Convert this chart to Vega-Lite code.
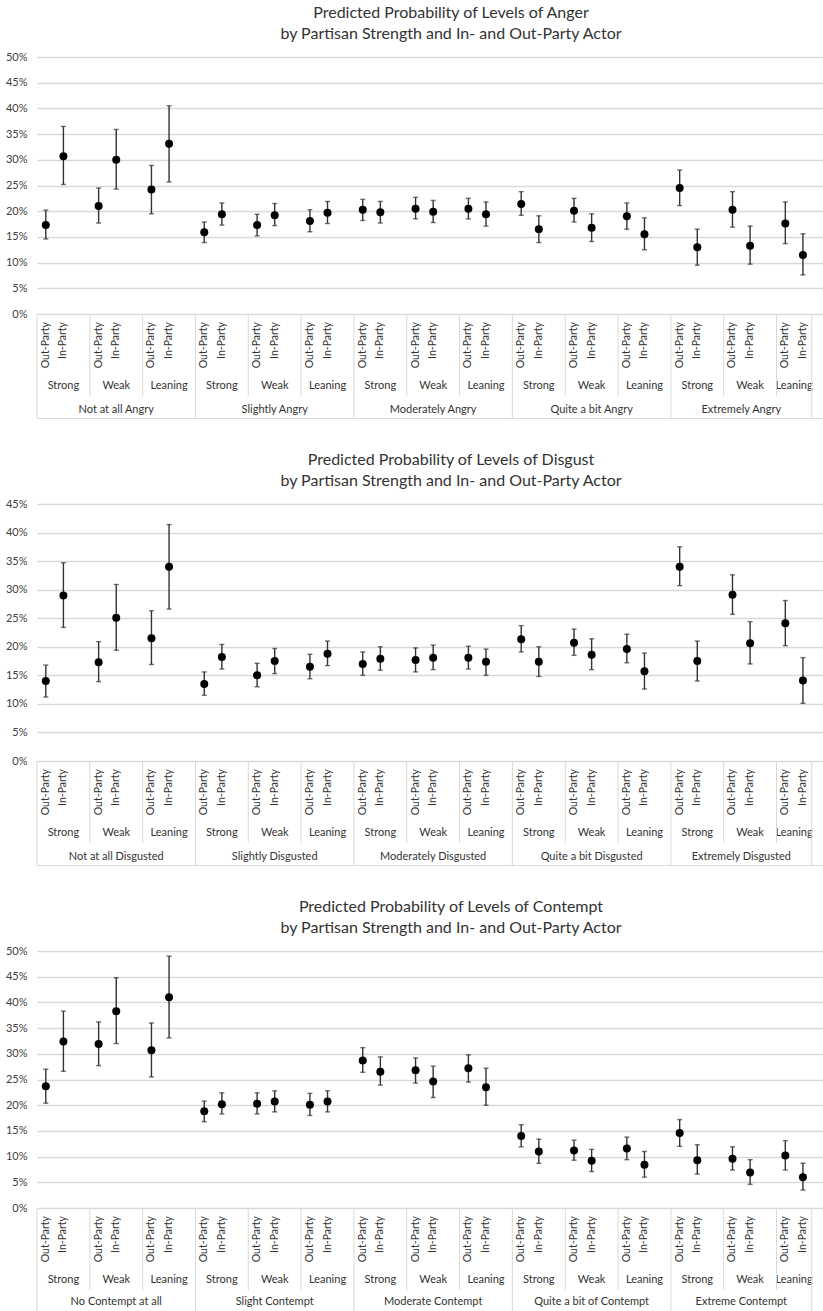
{
  "$schema": "https://vega.github.io/schema/vega-lite/v6.json",
  "background": "white",
  "padding": {"top": 4, "left": 0, "right": 0, "bottom": 0},
  "autosize": {"type": "pad"},
  "datasets": {
    "anger": [
      {"k": "1SO", "emotion": "Not at all Angry", "strength": "Strong", "party": "Out-Party", "p": 0.173, "lo": 0.146, "hi": 0.202},
      {"k": "1SI", "emotion": "Not at all Angry", "strength": "Strong", "party": "In-Party", "p": 0.307, "lo": 0.252, "hi": 0.365},
      {"k": "1WO", "emotion": "Not at all Angry", "strength": "Weak", "party": "Out-Party", "p": 0.210, "lo": 0.177, "hi": 0.245},
      {"k": "1WI", "emotion": "Not at all Angry", "strength": "Weak", "party": "In-Party", "p": 0.300, "lo": 0.243, "hi": 0.359},
      {"k": "1LO", "emotion": "Not at all Angry", "strength": "Leaning", "party": "Out-Party", "p": 0.242, "lo": 0.195, "hi": 0.289},
      {"k": "1LI", "emotion": "Not at all Angry", "strength": "Leaning", "party": "In-Party", "p": 0.331, "lo": 0.257, "hi": 0.405},
      {"k": "2SO", "emotion": "Slightly Angry", "strength": "Strong", "party": "Out-Party", "p": 0.159, "lo": 0.139, "hi": 0.179},
      {"k": "2SI", "emotion": "Slightly Angry", "strength": "Strong", "party": "In-Party", "p": 0.194, "lo": 0.173, "hi": 0.216},
      {"k": "2WO", "emotion": "Slightly Angry", "strength": "Weak", "party": "Out-Party", "p": 0.173, "lo": 0.152, "hi": 0.194},
      {"k": "2WI", "emotion": "Slightly Angry", "strength": "Weak", "party": "In-Party", "p": 0.192, "lo": 0.172, "hi": 0.215},
      {"k": "2LO", "emotion": "Slightly Angry", "strength": "Leaning", "party": "Out-Party", "p": 0.181, "lo": 0.160, "hi": 0.203},
      {"k": "2LI", "emotion": "Slightly Angry", "strength": "Leaning", "party": "In-Party", "p": 0.197, "lo": 0.176, "hi": 0.219},
      {"k": "3SO", "emotion": "Moderately Angry", "strength": "Strong", "party": "Out-Party", "p": 0.203, "lo": 0.182, "hi": 0.223},
      {"k": "3SI", "emotion": "Moderately Angry", "strength": "Strong", "party": "In-Party", "p": 0.198, "lo": 0.177, "hi": 0.219},
      {"k": "3WO", "emotion": "Moderately Angry", "strength": "Weak", "party": "Out-Party", "p": 0.205, "lo": 0.185, "hi": 0.227},
      {"k": "3WI", "emotion": "Moderately Angry", "strength": "Weak", "party": "In-Party", "p": 0.199, "lo": 0.178, "hi": 0.221},
      {"k": "3LO", "emotion": "Moderately Angry", "strength": "Leaning", "party": "Out-Party", "p": 0.205, "lo": 0.185, "hi": 0.225},
      {"k": "3LI", "emotion": "Moderately Angry", "strength": "Leaning", "party": "In-Party", "p": 0.194, "lo": 0.171, "hi": 0.218},
      {"k": "4SO", "emotion": "Quite a bit Angry", "strength": "Strong", "party": "Out-Party", "p": 0.214, "lo": 0.192, "hi": 0.238},
      {"k": "4SI", "emotion": "Quite a bit Angry", "strength": "Strong", "party": "In-Party", "p": 0.165, "lo": 0.139, "hi": 0.191},
      {"k": "4WO", "emotion": "Quite a bit Angry", "strength": "Weak", "party": "Out-Party", "p": 0.201, "lo": 0.179, "hi": 0.225},
      {"k": "4WI", "emotion": "Quite a bit Angry", "strength": "Weak", "party": "In-Party", "p": 0.168, "lo": 0.141, "hi": 0.195},
      {"k": "4LO", "emotion": "Quite a bit Angry", "strength": "Leaning", "party": "Out-Party", "p": 0.190, "lo": 0.165, "hi": 0.216},
      {"k": "4LI", "emotion": "Quite a bit Angry", "strength": "Leaning", "party": "In-Party", "p": 0.155, "lo": 0.125, "hi": 0.187},
      {"k": "5SO", "emotion": "Extremely Angry", "strength": "Strong", "party": "Out-Party", "p": 0.245, "lo": 0.211, "hi": 0.280},
      {"k": "5SI", "emotion": "Extremely Angry", "strength": "Strong", "party": "In-Party", "p": 0.130, "lo": 0.095, "hi": 0.165},
      {"k": "5WO", "emotion": "Extremely Angry", "strength": "Weak", "party": "Out-Party", "p": 0.203, "lo": 0.169, "hi": 0.238},
      {"k": "5WI", "emotion": "Extremely Angry", "strength": "Weak", "party": "In-Party", "p": 0.133, "lo": 0.097, "hi": 0.171},
      {"k": "5LO", "emotion": "Extremely Angry", "strength": "Leaning", "party": "Out-Party", "p": 0.176, "lo": 0.137, "hi": 0.218},
      {"k": "5LI", "emotion": "Extremely Angry", "strength": "Leaning", "party": "In-Party", "p": 0.115, "lo": 0.076, "hi": 0.156}
    ],
    "disgust": [
      {"k": "1SO", "emotion": "Not at all Disgusted", "strength": "Strong", "party": "Out-Party", "p": 0.140, "lo": 0.112, "hi": 0.168},
      {"k": "1SI", "emotion": "Not at all Disgusted", "strength": "Strong", "party": "In-Party", "p": 0.290, "lo": 0.234, "hi": 0.347},
      {"k": "1WO", "emotion": "Not at all Disgusted", "strength": "Weak", "party": "Out-Party", "p": 0.173, "lo": 0.139, "hi": 0.209},
      {"k": "1WI", "emotion": "Not at all Disgusted", "strength": "Weak", "party": "In-Party", "p": 0.251, "lo": 0.194, "hi": 0.309},
      {"k": "1LO", "emotion": "Not at all Disgusted", "strength": "Leaning", "party": "Out-Party", "p": 0.215, "lo": 0.169, "hi": 0.263},
      {"k": "1LI", "emotion": "Not at all Disgusted", "strength": "Leaning", "party": "In-Party", "p": 0.340, "lo": 0.266, "hi": 0.414},
      {"k": "2SO", "emotion": "Slightly Disgusted", "strength": "Strong", "party": "Out-Party", "p": 0.135, "lo": 0.115, "hi": 0.156},
      {"k": "2SI", "emotion": "Slightly Disgusted", "strength": "Strong", "party": "In-Party", "p": 0.182, "lo": 0.161, "hi": 0.204},
      {"k": "2WO", "emotion": "Slightly Disgusted", "strength": "Weak", "party": "Out-Party", "p": 0.150, "lo": 0.130, "hi": 0.171},
      {"k": "2WI", "emotion": "Slightly Disgusted", "strength": "Weak", "party": "In-Party", "p": 0.175, "lo": 0.153, "hi": 0.197},
      {"k": "2LO", "emotion": "Slightly Disgusted", "strength": "Leaning", "party": "Out-Party", "p": 0.165, "lo": 0.144, "hi": 0.187},
      {"k": "2LI", "emotion": "Slightly Disgusted", "strength": "Leaning", "party": "In-Party", "p": 0.188, "lo": 0.167, "hi": 0.210},
      {"k": "3SO", "emotion": "Moderately Disgusted", "strength": "Strong", "party": "Out-Party", "p": 0.170, "lo": 0.150, "hi": 0.191},
      {"k": "3SI", "emotion": "Moderately Disgusted", "strength": "Strong", "party": "In-Party", "p": 0.179, "lo": 0.159, "hi": 0.200},
      {"k": "3WO", "emotion": "Moderately Disgusted", "strength": "Weak", "party": "Out-Party", "p": 0.177, "lo": 0.156, "hi": 0.198},
      {"k": "3WI", "emotion": "Moderately Disgusted", "strength": "Weak", "party": "In-Party", "p": 0.181, "lo": 0.160, "hi": 0.203},
      {"k": "3LO", "emotion": "Moderately Disgusted", "strength": "Leaning", "party": "Out-Party", "p": 0.181, "lo": 0.161, "hi": 0.201},
      {"k": "3LI", "emotion": "Moderately Disgusted", "strength": "Leaning", "party": "In-Party", "p": 0.174, "lo": 0.150, "hi": 0.196},
      {"k": "4SO", "emotion": "Quite a bit Disgusted", "strength": "Strong", "party": "Out-Party", "p": 0.213, "lo": 0.191, "hi": 0.237},
      {"k": "4SI", "emotion": "Quite a bit Disgusted", "strength": "Strong", "party": "In-Party", "p": 0.174, "lo": 0.148, "hi": 0.200},
      {"k": "4WO", "emotion": "Quite a bit Disgusted", "strength": "Weak", "party": "Out-Party", "p": 0.207, "lo": 0.185, "hi": 0.231},
      {"k": "4WI", "emotion": "Quite a bit Disgusted", "strength": "Weak", "party": "In-Party", "p": 0.186, "lo": 0.160, "hi": 0.214},
      {"k": "4LO", "emotion": "Quite a bit Disgusted", "strength": "Leaning", "party": "Out-Party", "p": 0.196, "lo": 0.172, "hi": 0.222},
      {"k": "4LI", "emotion": "Quite a bit Disgusted", "strength": "Leaning", "party": "In-Party", "p": 0.157, "lo": 0.126, "hi": 0.189},
      {"k": "5SO", "emotion": "Extremely Disgusted", "strength": "Strong", "party": "Out-Party", "p": 0.340, "lo": 0.307, "hi": 0.375},
      {"k": "5SI", "emotion": "Extremely Disgusted", "strength": "Strong", "party": "In-Party", "p": 0.175, "lo": 0.140, "hi": 0.210},
      {"k": "5WO", "emotion": "Extremely Disgusted", "strength": "Weak", "party": "Out-Party", "p": 0.291, "lo": 0.257, "hi": 0.326},
      {"k": "5WI", "emotion": "Extremely Disgusted", "strength": "Weak", "party": "In-Party", "p": 0.206, "lo": 0.170, "hi": 0.244},
      {"k": "5LO", "emotion": "Extremely Disgusted", "strength": "Leaning", "party": "Out-Party", "p": 0.241, "lo": 0.202, "hi": 0.281},
      {"k": "5LI", "emotion": "Extremely Disgusted", "strength": "Leaning", "party": "In-Party", "p": 0.141, "lo": 0.101, "hi": 0.181}
    ],
    "contempt": [
      {"k": "1SO", "emotion": "No Contempt at all", "strength": "Strong", "party": "Out-Party", "p": 0.237, "lo": 0.204, "hi": 0.270},
      {"k": "1SI", "emotion": "No Contempt at all", "strength": "Strong", "party": "In-Party", "p": 0.324, "lo": 0.266, "hi": 0.383},
      {"k": "1WO", "emotion": "No Contempt at all", "strength": "Weak", "party": "Out-Party", "p": 0.319, "lo": 0.277, "hi": 0.362},
      {"k": "1WI", "emotion": "No Contempt at all", "strength": "Weak", "party": "In-Party", "p": 0.383, "lo": 0.320, "hi": 0.448},
      {"k": "1LO", "emotion": "No Contempt at all", "strength": "Leaning", "party": "Out-Party", "p": 0.307, "lo": 0.255, "hi": 0.360},
      {"k": "1LI", "emotion": "No Contempt at all", "strength": "Leaning", "party": "In-Party", "p": 0.410, "lo": 0.331, "hi": 0.490},
      {"k": "2SO", "emotion": "Slight Contempt", "strength": "Strong", "party": "Out-Party", "p": 0.188, "lo": 0.168, "hi": 0.208},
      {"k": "2SI", "emotion": "Slight Contempt", "strength": "Strong", "party": "In-Party", "p": 0.202, "lo": 0.183, "hi": 0.224},
      {"k": "2WO", "emotion": "Slight Contempt", "strength": "Weak", "party": "Out-Party", "p": 0.203, "lo": 0.183, "hi": 0.224},
      {"k": "2WI", "emotion": "Slight Contempt", "strength": "Weak", "party": "In-Party", "p": 0.207, "lo": 0.187, "hi": 0.228},
      {"k": "2LO", "emotion": "Slight Contempt", "strength": "Leaning", "party": "Out-Party", "p": 0.201, "lo": 0.180, "hi": 0.223},
      {"k": "2LI", "emotion": "Slight Contempt", "strength": "Leaning", "party": "In-Party", "p": 0.207, "lo": 0.187, "hi": 0.228},
      {"k": "3SO", "emotion": "Moderate Contempt", "strength": "Strong", "party": "Out-Party", "p": 0.287, "lo": 0.264, "hi": 0.312},
      {"k": "3SI", "emotion": "Moderate Contempt", "strength": "Strong", "party": "In-Party", "p": 0.265, "lo": 0.239, "hi": 0.294},
      {"k": "3WO", "emotion": "Moderate Contempt", "strength": "Weak", "party": "Out-Party", "p": 0.268, "lo": 0.243, "hi": 0.292},
      {"k": "3WI", "emotion": "Moderate Contempt", "strength": "Weak", "party": "In-Party", "p": 0.246, "lo": 0.215, "hi": 0.276},
      {"k": "3LO", "emotion": "Moderate Contempt", "strength": "Leaning", "party": "Out-Party", "p": 0.272, "lo": 0.245, "hi": 0.298},
      {"k": "3LI", "emotion": "Moderate Contempt", "strength": "Leaning", "party": "In-Party", "p": 0.235, "lo": 0.200, "hi": 0.272},
      {"k": "4SO", "emotion": "Quite a bit of Contempt", "strength": "Strong", "party": "Out-Party", "p": 0.140, "lo": 0.119, "hi": 0.162},
      {"k": "4SI", "emotion": "Quite a bit of Contempt", "strength": "Strong", "party": "In-Party", "p": 0.110, "lo": 0.087, "hi": 0.134},
      {"k": "4WO", "emotion": "Quite a bit of Contempt", "strength": "Weak", "party": "Out-Party", "p": 0.112, "lo": 0.093, "hi": 0.132},
      {"k": "4WI", "emotion": "Quite a bit of Contempt", "strength": "Weak", "party": "In-Party", "p": 0.092, "lo": 0.071, "hi": 0.114},
      {"k": "4LO", "emotion": "Quite a bit of Contempt", "strength": "Leaning", "party": "Out-Party", "p": 0.116, "lo": 0.094, "hi": 0.138},
      {"k": "4LI", "emotion": "Quite a bit of Contempt", "strength": "Leaning", "party": "In-Party", "p": 0.084, "lo": 0.060, "hi": 0.110},
      {"k": "5SO", "emotion": "Extreme Contempt", "strength": "Strong", "party": "Out-Party", "p": 0.146, "lo": 0.120, "hi": 0.172},
      {"k": "5SI", "emotion": "Extreme Contempt", "strength": "Strong", "party": "In-Party", "p": 0.093, "lo": 0.066, "hi": 0.123},
      {"k": "5WO", "emotion": "Extreme Contempt", "strength": "Weak", "party": "Out-Party", "p": 0.096, "lo": 0.074, "hi": 0.119},
      {"k": "5WI", "emotion": "Extreme Contempt", "strength": "Weak", "party": "In-Party", "p": 0.069, "lo": 0.046, "hi": 0.094},
      {"k": "5LO", "emotion": "Extreme Contempt", "strength": "Leaning", "party": "Out-Party", "p": 0.102, "lo": 0.074, "hi": 0.131},
      {"k": "5LI", "emotion": "Extreme Contempt", "strength": "Leaning", "party": "In-Party", "p": 0.060, "lo": 0.035, "hi": 0.087}
    ]
  },
  "spacing": 32,
  "vconcat": [
    {
      "spacing": 0,
      "bounds": "flush",
      "vconcat": [
        {
          "width": 786, "height": 257,
          "title": {"text": ["Predicted Probability of Levels of Anger", "by Partisan Strength and In- and Out-Party Actor"]},
          "data": {"name": "anger"},
          "encoding": {"x": {"field": "k", "type": "nominal", "axis": null, "scale": {"type": "band", "paddingInner": 0, "paddingOuter": 0.32, "align": 0, "domain": ["1SO","1SI","1Sg","1WO","1WI","1Wg","1LO","1LI","1Lg","2SO","2SI","2Sg","2WO","2WI","2Wg","2LO","2LI","2Lg","3SO","3SI","3Sg","3WO","3WI","3Wg","3LO","3LI","3Lg","4SO","4SI","4Sg","4WO","4WI","4Wg","4LO","4LI","4Lg","5SO","5SI","5Sg","5WO","5WI","5Wg","5LO","5LI"]}}},
          "layer": [
            {"mark": {"type": "rule", "color": "#333333", "strokeWidth": 1.4}, "encoding": {"y": {"field": "lo", "type": "quantitative", "scale": {"domain": [0, 0.5], "nice": false}, "axis": {"values": [0, 0.05, 0.1, 0.15, 0.2, 0.25, 0.3, 0.35, 0.4, 0.45, 0.5]}}, "y2": {"field": "hi"}}},
            {"mark": {"type": "tick", "color": "#333333", "thickness": 1.4, "size": 5}, "encoding": {"y": {"field": "lo", "type": "quantitative", "axis": {"values": [0, 0.05, 0.1, 0.15, 0.2, 0.25, 0.3, 0.35, 0.4, 0.45, 0.5]}}}},
            {"mark": {"type": "tick", "color": "#333333", "thickness": 1.4, "size": 5}, "encoding": {"y": {"field": "hi", "type": "quantitative", "axis": {"values": [0, 0.05, 0.1, 0.15, 0.2, 0.25, 0.3, 0.35, 0.4, 0.45, 0.5]}}}},
            {"mark": {"type": "circle", "size": 64, "color": "#000000", "opacity": 1}, "encoding": {"y": {"field": "p", "type": "quantitative", "axis": {"values": [0, 0.05, 0.1, 0.15, 0.2, 0.25, 0.3, 0.35, 0.4, 0.45, 0.5]}}}}
          ]
        },
        {
          "width": 786, "height": 62,
          "data": {"name": "anger"},
          "encoding": {"x": {"field": "k", "type": "nominal", "axis": null, "scale": {"type": "band", "paddingInner": 0, "paddingOuter": 0.32, "align": 0, "domain": ["1SO","1SI","1Sg","1WO","1WI","1Wg","1LO","1LI","1Lg","2SO","2SI","2Sg","2WO","2WI","2Wg","2LO","2LI","2Lg","3SO","3SI","3Sg","3WO","3WI","3Wg","3LO","3LI","3Lg","4SO","4SI","4Sg","4WO","4WI","4Wg","4LO","4LI","4Lg","5SO","5SI","5Sg","5WO","5WI","5Wg","5LO","5LI"]}}},
          "layer": [
            {"mark": {"type": "text", "angle": 270, "align": "right", "baseline": "middle", "dx": 23, "fontSize": 10.5, "color": "#333333"}, "encoding": {"text": {"field": "party"}}},
            {"transform": [{"filter": "datum.party == 'Out-Party'"}], "mark": {"type": "rule", "color": "#d9d9d9", "strokeWidth": 1}, "encoding": {"x": {"field": "k", "type": "nominal", "bandPosition": 0}}},
            {"transform": [{"filter": "datum.k == '5LI'"}], "mark": {"type": "rule", "color": "#d9d9d9", "strokeWidth": 1}, "encoding": {"x": {"field": "k", "type": "nominal", "bandPosition": 1}}}
          ]
        },
        {
          "width": 786, "height": 20,
          "data": {"name": "anger"},
          "encoding": {"x": {"field": "k", "type": "nominal", "axis": null, "scale": {"type": "band", "paddingInner": 0, "paddingOuter": 0.32, "align": 0, "domain": ["1SO","1SI","1Sg","1WO","1WI","1Wg","1LO","1LI","1Lg","2SO","2SI","2Sg","2WO","2WI","2Wg","2LO","2LI","2Lg","3SO","3SI","3Sg","3WO","3WI","3Wg","3LO","3LI","3Lg","4SO","4SI","4Sg","4WO","4WI","4Wg","4LO","4LI","4Lg","5SO","5SI","5Sg","5WO","5WI","5Wg","5LO","5LI"]}}},
          "layer": [
            {"transform": [{"filter": "datum.party == 'In-Party' && datum.k != '5LI'"}], "mark": {"type": "text", "baseline": "middle", "fontSize": 11, "color": "#333333"}, "encoding": {"text": {"field": "strength"}}},
            {"transform": [{"filter": "datum.k == '5LI'"}], "mark": {"type": "text", "baseline": "middle", "fontSize": 11, "color": "#333333"}, "encoding": {"x": {"field": "k", "type": "nominal", "bandPosition": 0}, "text": {"field": "strength"}}},
            {"transform": [{"filter": "datum.party == 'Out-Party'"}], "mark": {"type": "rule", "color": "#d9d9d9", "strokeWidth": 1}, "encoding": {"x": {"field": "k", "type": "nominal", "bandPosition": 0}}},
            {"transform": [{"filter": "datum.k == '5LI'"}], "mark": {"type": "rule", "color": "#d9d9d9", "strokeWidth": 1}, "encoding": {"x": {"field": "k", "type": "nominal", "bandPosition": 1}}}
          ]
        },
        {
          "width": 786, "height": 22,
          "data": {"name": "anger"},
          "encoding": {"x": {"field": "k", "type": "nominal", "axis": {"orient": "bottom", "labels": false, "ticks": false, "domain": true, "domainColor": "#d9d9d9", "title": null}, "scale": {"type": "band", "paddingInner": 0, "paddingOuter": 0.32, "align": 0, "domain": ["1SO","1SI","1Sg","1WO","1WI","1Wg","1LO","1LI","1Lg","2SO","2SI","2Sg","2WO","2WI","2Wg","2LO","2LI","2Lg","3SO","3SI","3Sg","3WO","3WI","3Wg","3LO","3LI","3Lg","4SO","4SI","4Sg","4WO","4WI","4Wg","4LO","4LI","4Lg","5SO","5SI","5Sg","5WO","5WI","5Wg","5LO","5LI"]}}},
          "layer": [
            {"transform": [{"filter": "datum.party == 'In-Party' && datum.strength == 'Weak' && datum.k != '5WI'"}], "mark": {"type": "text", "baseline": "middle", "dy": 3, "fontSize": 11, "color": "#333333"}, "encoding": {"text": {"field": "emotion"}}},
            {"transform": [{"filter": "datum.k == '5WI'"}], "mark": {"type": "text", "baseline": "middle", "dy": 3, "fontSize": 11, "color": "#333333"}, "encoding": {"x": {"field": "k", "type": "nominal", "bandPosition": 0}, "text": {"field": "emotion"}}},
            {"transform": [{"filter": "datum.party == 'Out-Party' && datum.strength == 'Strong'"}], "mark": {"type": "rule", "color": "#d9d9d9", "strokeWidth": 1}, "encoding": {"x": {"field": "k", "type": "nominal", "bandPosition": 0}}},
            {"transform": [{"filter": "datum.k == '5LI'"}], "mark": {"type": "rule", "color": "#d9d9d9", "strokeWidth": 1}, "encoding": {"x": {"field": "k", "type": "nominal", "bandPosition": 1}}}
          ]
        }
      ]
    },
    {
      "spacing": 0,
      "bounds": "flush",
      "vconcat": [
        {
          "width": 786, "height": 257,
          "title": {"text": ["Predicted Probability of Levels of Disgust", "by Partisan Strength and In- and Out-Party Actor"]},
          "data": {"name": "disgust"},
          "encoding": {"x": {"field": "k", "type": "nominal", "axis": null, "scale": {"type": "band", "paddingInner": 0, "paddingOuter": 0.32, "align": 0, "domain": ["1SO","1SI","1Sg","1WO","1WI","1Wg","1LO","1LI","1Lg","2SO","2SI","2Sg","2WO","2WI","2Wg","2LO","2LI","2Lg","3SO","3SI","3Sg","3WO","3WI","3Wg","3LO","3LI","3Lg","4SO","4SI","4Sg","4WO","4WI","4Wg","4LO","4LI","4Lg","5SO","5SI","5Sg","5WO","5WI","5Wg","5LO","5LI"]}}},
          "layer": [
            {"mark": {"type": "rule", "color": "#333333", "strokeWidth": 1.4}, "encoding": {"y": {"field": "lo", "type": "quantitative", "scale": {"domain": [0, 0.45], "nice": false}, "axis": {"values": [0, 0.05, 0.1, 0.15, 0.2, 0.25, 0.3, 0.35, 0.4, 0.45]}}, "y2": {"field": "hi"}}},
            {"mark": {"type": "tick", "color": "#333333", "thickness": 1.4, "size": 5}, "encoding": {"y": {"field": "lo", "type": "quantitative", "axis": {"values": [0, 0.05, 0.1, 0.15, 0.2, 0.25, 0.3, 0.35, 0.4, 0.45]}}}},
            {"mark": {"type": "tick", "color": "#333333", "thickness": 1.4, "size": 5}, "encoding": {"y": {"field": "hi", "type": "quantitative", "axis": {"values": [0, 0.05, 0.1, 0.15, 0.2, 0.25, 0.3, 0.35, 0.4, 0.45]}}}},
            {"mark": {"type": "circle", "size": 64, "color": "#000000", "opacity": 1}, "encoding": {"y": {"field": "p", "type": "quantitative", "axis": {"values": [0, 0.05, 0.1, 0.15, 0.2, 0.25, 0.3, 0.35, 0.4, 0.45]}}}}
          ]
        },
        {
          "width": 786, "height": 62,
          "data": {"name": "disgust"},
          "encoding": {"x": {"field": "k", "type": "nominal", "axis": null, "scale": {"type": "band", "paddingInner": 0, "paddingOuter": 0.32, "align": 0, "domain": ["1SO","1SI","1Sg","1WO","1WI","1Wg","1LO","1LI","1Lg","2SO","2SI","2Sg","2WO","2WI","2Wg","2LO","2LI","2Lg","3SO","3SI","3Sg","3WO","3WI","3Wg","3LO","3LI","3Lg","4SO","4SI","4Sg","4WO","4WI","4Wg","4LO","4LI","4Lg","5SO","5SI","5Sg","5WO","5WI","5Wg","5LO","5LI"]}}},
          "layer": [
            {"mark": {"type": "text", "angle": 270, "align": "right", "baseline": "middle", "dx": 23, "fontSize": 10.5, "color": "#333333"}, "encoding": {"text": {"field": "party"}}},
            {"transform": [{"filter": "datum.party == 'Out-Party'"}], "mark": {"type": "rule", "color": "#d9d9d9", "strokeWidth": 1}, "encoding": {"x": {"field": "k", "type": "nominal", "bandPosition": 0}}},
            {"transform": [{"filter": "datum.k == '5LI'"}], "mark": {"type": "rule", "color": "#d9d9d9", "strokeWidth": 1}, "encoding": {"x": {"field": "k", "type": "nominal", "bandPosition": 1}}}
          ]
        },
        {
          "width": 786, "height": 20,
          "data": {"name": "disgust"},
          "encoding": {"x": {"field": "k", "type": "nominal", "axis": null, "scale": {"type": "band", "paddingInner": 0, "paddingOuter": 0.32, "align": 0, "domain": ["1SO","1SI","1Sg","1WO","1WI","1Wg","1LO","1LI","1Lg","2SO","2SI","2Sg","2WO","2WI","2Wg","2LO","2LI","2Lg","3SO","3SI","3Sg","3WO","3WI","3Wg","3LO","3LI","3Lg","4SO","4SI","4Sg","4WO","4WI","4Wg","4LO","4LI","4Lg","5SO","5SI","5Sg","5WO","5WI","5Wg","5LO","5LI"]}}},
          "layer": [
            {"transform": [{"filter": "datum.party == 'In-Party' && datum.k != '5LI'"}], "mark": {"type": "text", "baseline": "middle", "fontSize": 11, "color": "#333333"}, "encoding": {"text": {"field": "strength"}}},
            {"transform": [{"filter": "datum.k == '5LI'"}], "mark": {"type": "text", "baseline": "middle", "fontSize": 11, "color": "#333333"}, "encoding": {"x": {"field": "k", "type": "nominal", "bandPosition": 0}, "text": {"field": "strength"}}},
            {"transform": [{"filter": "datum.party == 'Out-Party'"}], "mark": {"type": "rule", "color": "#d9d9d9", "strokeWidth": 1}, "encoding": {"x": {"field": "k", "type": "nominal", "bandPosition": 0}}},
            {"transform": [{"filter": "datum.k == '5LI'"}], "mark": {"type": "rule", "color": "#d9d9d9", "strokeWidth": 1}, "encoding": {"x": {"field": "k", "type": "nominal", "bandPosition": 1}}}
          ]
        },
        {
          "width": 786, "height": 22,
          "data": {"name": "disgust"},
          "encoding": {"x": {"field": "k", "type": "nominal", "axis": {"orient": "bottom", "labels": false, "ticks": false, "domain": true, "domainColor": "#d9d9d9", "title": null}, "scale": {"type": "band", "paddingInner": 0, "paddingOuter": 0.32, "align": 0, "domain": ["1SO","1SI","1Sg","1WO","1WI","1Wg","1LO","1LI","1Lg","2SO","2SI","2Sg","2WO","2WI","2Wg","2LO","2LI","2Lg","3SO","3SI","3Sg","3WO","3WI","3Wg","3LO","3LI","3Lg","4SO","4SI","4Sg","4WO","4WI","4Wg","4LO","4LI","4Lg","5SO","5SI","5Sg","5WO","5WI","5Wg","5LO","5LI"]}}},
          "layer": [
            {"transform": [{"filter": "datum.party == 'In-Party' && datum.strength == 'Weak' && datum.k != '5WI'"}], "mark": {"type": "text", "baseline": "middle", "dy": 3, "fontSize": 11, "color": "#333333"}, "encoding": {"text": {"field": "emotion"}}},
            {"transform": [{"filter": "datum.k == '5WI'"}], "mark": {"type": "text", "baseline": "middle", "dy": 3, "fontSize": 11, "color": "#333333"}, "encoding": {"x": {"field": "k", "type": "nominal", "bandPosition": 0}, "text": {"field": "emotion"}}},
            {"transform": [{"filter": "datum.party == 'Out-Party' && datum.strength == 'Strong'"}], "mark": {"type": "rule", "color": "#d9d9d9", "strokeWidth": 1}, "encoding": {"x": {"field": "k", "type": "nominal", "bandPosition": 0}}},
            {"transform": [{"filter": "datum.k == '5LI'"}], "mark": {"type": "rule", "color": "#d9d9d9", "strokeWidth": 1}, "encoding": {"x": {"field": "k", "type": "nominal", "bandPosition": 1}}}
          ]
        }
      ]
    },
    {
      "spacing": 0,
      "bounds": "flush",
      "vconcat": [
        {
          "width": 786, "height": 257,
          "title": {"text": ["Predicted Probability of Levels of Contempt", "by Partisan Strength and In- and Out-Party Actor"]},
          "data": {"name": "contempt"},
          "encoding": {"x": {"field": "k", "type": "nominal", "axis": null, "scale": {"type": "band", "paddingInner": 0, "paddingOuter": 0.32, "align": 0, "domain": ["1SO","1SI","1Sg","1WO","1WI","1Wg","1LO","1LI","1Lg","2SO","2SI","2Sg","2WO","2WI","2Wg","2LO","2LI","2Lg","3SO","3SI","3Sg","3WO","3WI","3Wg","3LO","3LI","3Lg","4SO","4SI","4Sg","4WO","4WI","4Wg","4LO","4LI","4Lg","5SO","5SI","5Sg","5WO","5WI","5Wg","5LO","5LI"]}}},
          "layer": [
            {"mark": {"type": "rule", "color": "#333333", "strokeWidth": 1.4}, "encoding": {"y": {"field": "lo", "type": "quantitative", "scale": {"domain": [0, 0.5], "nice": false}, "axis": {"values": [0, 0.05, 0.1, 0.15, 0.2, 0.25, 0.3, 0.35, 0.4, 0.45, 0.5]}}, "y2": {"field": "hi"}}},
            {"mark": {"type": "tick", "color": "#333333", "thickness": 1.4, "size": 5}, "encoding": {"y": {"field": "lo", "type": "quantitative", "axis": {"values": [0, 0.05, 0.1, 0.15, 0.2, 0.25, 0.3, 0.35, 0.4, 0.45, 0.5]}}}},
            {"mark": {"type": "tick", "color": "#333333", "thickness": 1.4, "size": 5}, "encoding": {"y": {"field": "hi", "type": "quantitative", "axis": {"values": [0, 0.05, 0.1, 0.15, 0.2, 0.25, 0.3, 0.35, 0.4, 0.45, 0.5]}}}},
            {"mark": {"type": "circle", "size": 64, "color": "#000000", "opacity": 1}, "encoding": {"y": {"field": "p", "type": "quantitative", "axis": {"values": [0, 0.05, 0.1, 0.15, 0.2, 0.25, 0.3, 0.35, 0.4, 0.45, 0.5]}}}}
          ]
        },
        {
          "width": 786, "height": 62,
          "data": {"name": "contempt"},
          "encoding": {"x": {"field": "k", "type": "nominal", "axis": null, "scale": {"type": "band", "paddingInner": 0, "paddingOuter": 0.32, "align": 0, "domain": ["1SO","1SI","1Sg","1WO","1WI","1Wg","1LO","1LI","1Lg","2SO","2SI","2Sg","2WO","2WI","2Wg","2LO","2LI","2Lg","3SO","3SI","3Sg","3WO","3WI","3Wg","3LO","3LI","3Lg","4SO","4SI","4Sg","4WO","4WI","4Wg","4LO","4LI","4Lg","5SO","5SI","5Sg","5WO","5WI","5Wg","5LO","5LI"]}}},
          "layer": [
            {"mark": {"type": "text", "angle": 270, "align": "right", "baseline": "middle", "dx": 23, "fontSize": 10.5, "color": "#333333"}, "encoding": {"text": {"field": "party"}}},
            {"transform": [{"filter": "datum.party == 'Out-Party'"}], "mark": {"type": "rule", "color": "#d9d9d9", "strokeWidth": 1}, "encoding": {"x": {"field": "k", "type": "nominal", "bandPosition": 0}}},
            {"transform": [{"filter": "datum.k == '5LI'"}], "mark": {"type": "rule", "color": "#d9d9d9", "strokeWidth": 1}, "encoding": {"x": {"field": "k", "type": "nominal", "bandPosition": 1}}}
          ]
        },
        {
          "width": 786, "height": 20,
          "data": {"name": "contempt"},
          "encoding": {"x": {"field": "k", "type": "nominal", "axis": null, "scale": {"type": "band", "paddingInner": 0, "paddingOuter": 0.32, "align": 0, "domain": ["1SO","1SI","1Sg","1WO","1WI","1Wg","1LO","1LI","1Lg","2SO","2SI","2Sg","2WO","2WI","2Wg","2LO","2LI","2Lg","3SO","3SI","3Sg","3WO","3WI","3Wg","3LO","3LI","3Lg","4SO","4SI","4Sg","4WO","4WI","4Wg","4LO","4LI","4Lg","5SO","5SI","5Sg","5WO","5WI","5Wg","5LO","5LI"]}}},
          "layer": [
            {"transform": [{"filter": "datum.party == 'In-Party' && datum.k != '5LI'"}], "mark": {"type": "text", "baseline": "middle", "fontSize": 11, "color": "#333333"}, "encoding": {"text": {"field": "strength"}}},
            {"transform": [{"filter": "datum.k == '5LI'"}], "mark": {"type": "text", "baseline": "middle", "fontSize": 11, "color": "#333333"}, "encoding": {"x": {"field": "k", "type": "nominal", "bandPosition": 0}, "text": {"field": "strength"}}},
            {"transform": [{"filter": "datum.party == 'Out-Party'"}], "mark": {"type": "rule", "color": "#d9d9d9", "strokeWidth": 1}, "encoding": {"x": {"field": "k", "type": "nominal", "bandPosition": 0}}},
            {"transform": [{"filter": "datum.k == '5LI'"}], "mark": {"type": "rule", "color": "#d9d9d9", "strokeWidth": 1}, "encoding": {"x": {"field": "k", "type": "nominal", "bandPosition": 1}}}
          ]
        },
        {
          "width": 786, "height": 22,
          "data": {"name": "contempt"},
          "encoding": {"x": {"field": "k", "type": "nominal", "axis": {"orient": "bottom", "labels": false, "ticks": false, "domain": true, "domainColor": "#d9d9d9", "title": null}, "scale": {"type": "band", "paddingInner": 0, "paddingOuter": 0.32, "align": 0, "domain": ["1SO","1SI","1Sg","1WO","1WI","1Wg","1LO","1LI","1Lg","2SO","2SI","2Sg","2WO","2WI","2Wg","2LO","2LI","2Lg","3SO","3SI","3Sg","3WO","3WI","3Wg","3LO","3LI","3Lg","4SO","4SI","4Sg","4WO","4WI","4Wg","4LO","4LI","4Lg","5SO","5SI","5Sg","5WO","5WI","5Wg","5LO","5LI"]}}},
          "layer": [
            {"transform": [{"filter": "datum.party == 'In-Party' && datum.strength == 'Weak' && datum.k != '5WI'"}], "mark": {"type": "text", "baseline": "middle", "dy": 1, "fontSize": 11, "color": "#333333"}, "encoding": {"text": {"field": "emotion"}}},
            {"transform": [{"filter": "datum.k == '5WI'"}], "mark": {"type": "text", "baseline": "middle", "dy": 1, "fontSize": 11, "color": "#333333"}, "encoding": {"x": {"field": "k", "type": "nominal", "bandPosition": 0}, "text": {"field": "emotion"}}},
            {"transform": [{"filter": "datum.party == 'Out-Party' && datum.strength == 'Strong'"}], "mark": {"type": "rule", "color": "#d9d9d9", "strokeWidth": 1}, "encoding": {"x": {"field": "k", "type": "nominal", "bandPosition": 0}}},
            {"transform": [{"filter": "datum.k == '5LI'"}], "mark": {"type": "rule", "color": "#d9d9d9", "strokeWidth": 1}, "encoding": {"x": {"field": "k", "type": "nominal", "bandPosition": 1}}}
          ]
        }
      ]
    }
  ],
  "config": {
    "font": "Lato",
    "view": {"stroke": null},
    "axisY": {"format": ".0%", "grid": true, "gridColor": "#d9d9d9", "gridWidth": 1.3, "domain": false, "ticks": false, "labelOverlap": false, "labelPadding": 10, "labelFontSize": 11, "labelColor": "#404040", "labelFont": "Lato", "title": null, "minExtent": 37, "maxExtent": 37},
    "title": {"anchor": "middle", "frame": "group", "dx": 21, "fontSize": 16, "fontWeight": "normal", "color": "#333333", "font": "Lato", "lineHeight": 21.5, "offset": 9}
  }
}
